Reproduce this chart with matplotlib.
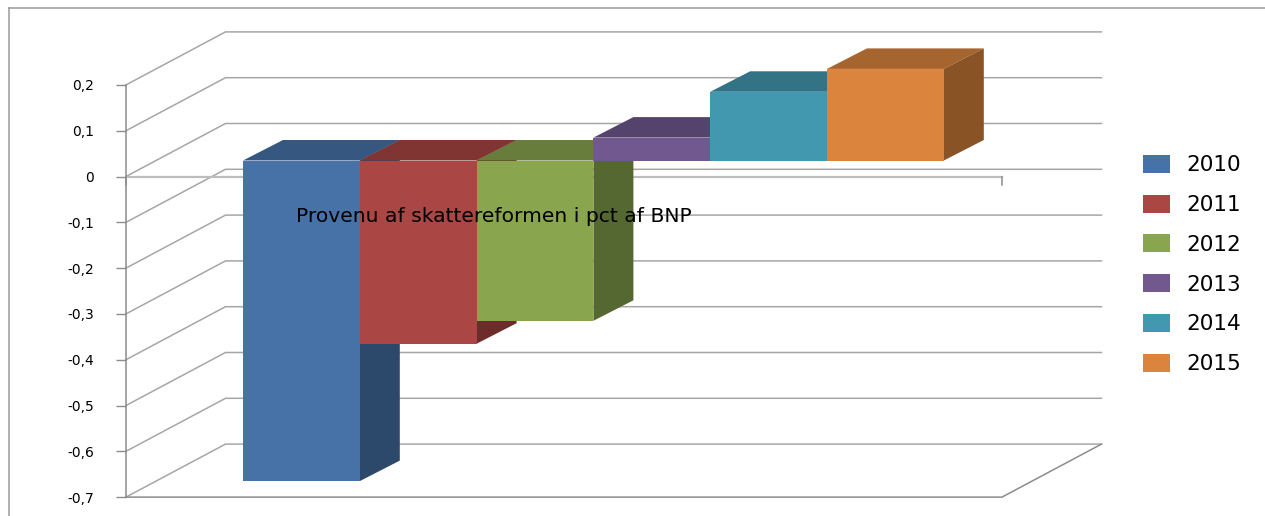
#!/usr/bin/env python3
import matplotlib
matplotlib.use("Agg")
import matplotlib.pyplot as plt
from matplotlib.lines import Line2D

# data
aar = ["2010", "2011", "2012", "2013", "2014", "2015"]
provenu = [-0.70, -0.40, -0.35, 0.05, 0.15, 0.20]
y_ticks = [0.2, 0.1, 0, -0.1, -0.2, -0.3, -0.4, -0.5, -0.6, -0.7]
titel = "Provenu af skattereformen i pct af BNP"

farver = ["#4672A8", "#AA4643", "#89A54E", "#71588F", "#4298AF", "#DB843D"]

W, H = 1265, 516
PX_X = 116.8      # pixels for one category
PX_Y = 458.0      # pixels for one unit of value
X0, Y0 = 126, 176.5   # where x=0, y=0 land in the picture (from top left)

# depth of the fake 3d box, in data units
wall_dx, wall_dy = 99.5 / PX_X, 53 / PX_Y
bar_dx, bar_dy = 29.4 / PX_X, 16 / PX_Y     # bars stand in the middle of the floor
side_dx, side_dy = 40 / PX_X, 20.5 / PX_Y
gap = 0.75
x_end = len(aar) + 2 * gap


def moerk(farve, f):
    r, g, b = matplotlib.colors.to_rgb(farve)
    return (r * f, g * f, b * f)


fig = plt.figure(figsize=(W / 100, H / 100), dpi=100, facecolor="white")
ax = fig.add_axes([0, 0, 1, 1])
ax.set_xlim(-X0 / PX_X, (W - X0) / PX_X)
ax.set_ylim(-(H - Y0) / PX_Y, Y0 / PX_Y)
ax.patch.set_visible(False)

GRID = "#a6a6a6"
AXIS = "#8c8c8c"

# walls: every gridline goes back along the side wall and then along the back wall
for t in y_ticks:
    ax.plot([0, wall_dx, x_end + wall_dx], [t, t + wall_dy, t + wall_dy],
            color=GRID, lw=1.1, zorder=1, solid_joinstyle="miter")

# floor and the zero line
ax.plot([0, x_end, x_end + wall_dx], [y_ticks[-1], y_ticks[-1], y_ticks[-1] + wall_dy],
        color=AXIS, lw=1.1, zorder=1)
ax.plot([0, x_end], [0, 0], color="#bdbdbd", lw=1.6, zorder=1)
ax.plot([x_end, x_end], [0, -8 / PX_Y], color=AXIS, lw=1.1, zorder=1)
ax.plot([0, 0], [0, -8 / PX_Y], color=AXIS, lw=1.1, zorder=1)

# bars, left to right so the next front hides the side of the one before
for i, v in enumerate(provenu):
    left = gap + i + bar_dx
    right = left + 1
    top = max(v, 0) + bar_dy
    low = min(v, 0) + bar_dy
    z = 3 + i
    ax.fill([left, left + side_dx, right + side_dx, right], [top, top + side_dy, top + side_dy, top],
            color=moerk(farver[i], 0.76), lw=0, zorder=z)
    ax.fill([right, right + side_dx, right + side_dx, right], [low, low + side_dy, top + side_dy, top],
            color=moerk(farver[i], 0.63), lw=0, zorder=z)
    ax.bar(left, v, width=1, bottom=bar_dy, align="edge", color=farver[i], lw=0, zorder=z, label=aar[i])

ax.text(gap + bar_dx + 53 / PX_X, -(216 - Y0) / PX_Y, titel, fontsize=14.6, color="black",
        va="center", ha="left", zorder=20)

# value axis
ax.set_yticks(y_ticks)
ax.set_yticklabels([str(t).replace(".", ",") for t in y_ticks], fontsize=15.5, color="black")
ax.set_xticks([])
for s in ["top", "right", "bottom"]:
    ax.spines[s].set_visible(False)
ax.spines["left"].set_position(("data", 0))
ax.spines["left"].set_bounds(y_ticks[-1], y_ticks[0])
ax.spines["left"].set_color(AXIS)
ax.spines["left"].set_linewidth(1.1)
ax.tick_params(axis="y", direction="out", length=7.2, width=1, color=AXIS, pad=16)

leg = ax.legend(loc="upper left", bbox_to_anchor=(1143 / W, 1 - 155 / H), frameon=False,
                fontsize=15.5, handlelength=1.25, handleheight=0.9, handletextpad=0.75,
                labelspacing=0.9, borderpad=0, borderaxespad=0)

# outer frame of the chart
for xs, ys in [([8.5, 8.5], [H, 7.5]), ([8.5, W], [7.5, 7.5])]:
    fig.add_artist(Line2D([x / W for x in xs], [1 - y / H for y in ys], color="#9a9a9a", lw=1.1))

fig.savefig("out.png", dpi=100)
